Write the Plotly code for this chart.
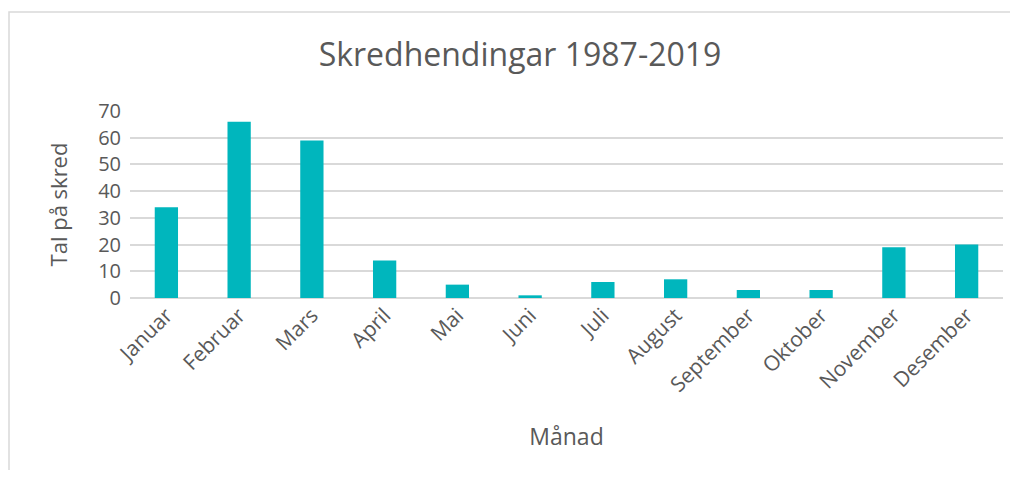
import plotly.graph_objects as go

# data
months = ["Januar", "Februar", "Mars", "April", "Mai", "Juni",
          "Juli", "August", "September", "Oktober", "November", "Desember"]
skred = [34, 66, 59, 14, 5, 1, 6, 7, 3, 3, 19, 20]
y_ticks = [0, 10, 20, 30, 40, 50, 60, 70]

TEXT = "#595959"
GRID = "#D9D9D9"
FONT = "Open Sans, DejaVu Sans, sans-serif"

fig = go.Figure(
    go.Bar(
        x=months,
        y=skred,
        marker=dict(color="#00B6BD", line=dict(width=0)),
    )
)

# page body has an 8px margin, so the figure is a bit smaller than the window
fig.update_layout(
    width=1002,
    height=462,
    margin=dict(l=122, r=7, t=103, b=172, autoexpand=False),
    paper_bgcolor="white",
    plot_bgcolor="white",
    bargap=0.68,
    showlegend=False,
    font=dict(family=FONT, color=TEXT),
    title=dict(
        text="Skredhendingar 1987-2019",
        x=0.511, xanchor="center",
        y=0.898, yanchor="middle",
        font=dict(size=32, color=TEXT, family=FONT),
    ),
    xaxis=dict(
        automargin=False,
        tickangle=-45,
        tickfont=dict(size=21, color=TEXT),
        showgrid=False,
        showline=False,
        ticks="",
        title=dict(text="Månad", font=dict(size=23, color=TEXT), standoff=32),
    ),
    yaxis=dict(
        automargin=False,
        range=[0, 70],
        tickvals=y_ticks,
        tickfont=dict(size=20, color=TEXT),
        showgrid=True,
        gridcolor=GRID,
        gridwidth=1.5,
        zeroline=True,
        zerolinecolor=GRID,
        zerolinewidth=1.5,
        ticks="",
        ticklabelstandoff=8,
        title=dict(text="Tal på skred", font=dict(size=22, color=TEXT), standoff=24),
    ),
    shapes=[
        dict(type="rect", xref="paper", yref="paper",
             x0=-0.1386, x1=1.2, y0=-1.5, y1=1.529,
             line=dict(color=GRID, width=1.5), fillcolor="rgba(0,0,0,0)",
             layer="below"),
    ],
)

fig.write_html("out.html")
